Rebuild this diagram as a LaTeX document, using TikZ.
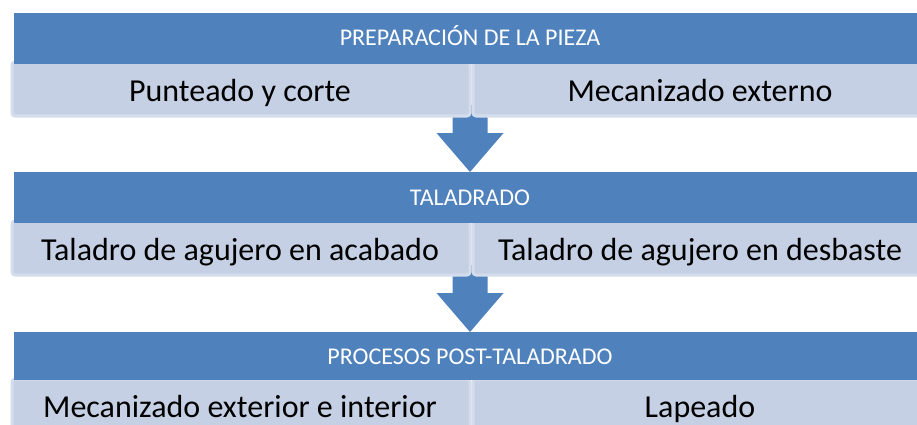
\documentclass[tikz,border=0pt]{standalone}
\usepackage{fontspec}
\setmainfont{Carlito}
\definecolor{barblue}{HTML}{4F81BD}
\definecolor{panelfill}{HTML}{C5D0E4}
\definecolor{panelrim}{HTML}{D4DDEC}
\begin{document}
\begin{tikzpicture}[x=1pt, y=-1pt, line join=round,
	header/.style={fill=barblue, inner sep=0pt, anchor=north west},
	panel/.style={fill=panelfill, draw=panelrim, line width=3pt, rounded corners=3pt, inner sep=0pt, anchor=north west},
	headtext/.style={text=white, anchor=base, font=\fontsize{24}{29}\selectfont},
	paneltext/.style={text=black, anchor=base, font=\fontsize{32}{38}\selectfont}]
	\useasboundingbox (0,0) rectangle (917,425);
	% Flechas
	\fill[barblue] (452.5,105)--(487.5,105)--(487.5,133)--(503.5,133)--(470,172)--(436.5,133)--(452.5,133)--cycle;
	\fill[barblue] (452.5,265)--(487.5,265)--(487.5,293)--(503.5,293)--(470,332)--(436.5,293)--(452.5,293)--cycle;
	% Cajas
	\node[panel, minimum width=458pt, minimum height=54pt] (prepA) at (10.5,60.5) {};
	\node[panel, minimum width=458pt, minimum height=54pt] (prepB) at (471.5,60.5) {};
	\node[panel, minimum width=458pt, minimum height=54pt] (talA) at (10.5,219.5) {};
	\node[panel, minimum width=458pt, minimum height=54pt] (talB) at (471.5,219.5) {};
	\node[panel, minimum width=458pt, minimum height=54pt] (postA) at (10.5,377.5) {};
	\node[panel, minimum width=458pt, minimum height=54pt] (postB) at (471.5,377.5) {};
	% Bandas
	\node[header, minimum width=912pt, minimum height=51pt] (prep) at (14,13) {};
	\node[header, minimum width=912pt, minimum height=51pt] (tal) at (14,172) {};
	\node[header, minimum width=912pt, minimum height=48pt] (post) at (14,332) {};
	% Textos
	\node[headtext] (prepT) at (470,46) {PREPARACIÓN DE LA PIEZA};
	\node[headtext] (talT) at (470,205) {TALADRADO};
	\node[headtext] (postT) at (470,364) {PROCESOS POST-TALADRADO};
	\node[paneltext] (prepAT) at (240,102) {Punteado y corte};
	\node[paneltext] (prepBT) at (700,102) {Mecanizado externo};
	\node[paneltext] (talAT) at (240,260) {Taladro de agujero en acabado};
	\node[paneltext] (talBT) at (700,260) {Taladro de agujero en desbaste};
	\node[paneltext] (postAT) at (240,417) {Mecanizado exterior e interior};
	\node[paneltext] (postBT) at (700,417) {Lapeado};
\end{tikzpicture}
\end{document}
